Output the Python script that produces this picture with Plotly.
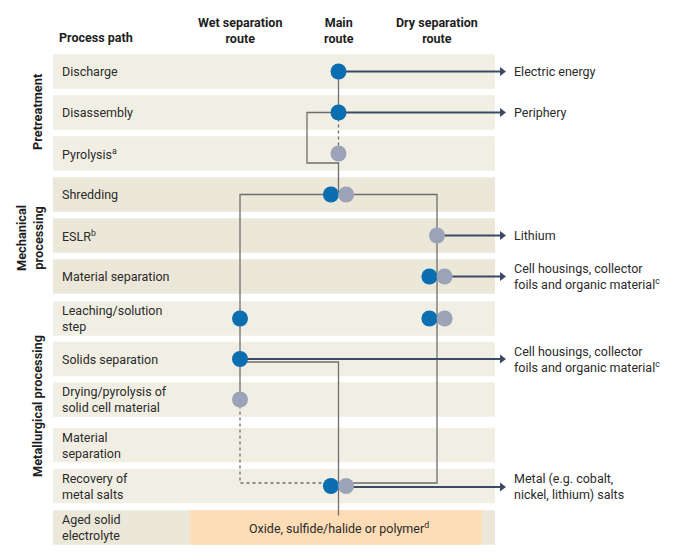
import plotly.graph_objects as go

# ---------------- data ----------------
steps = ["Discharge", "Disassembly", "Pyrolysis<sup>a</sup>", "Shredding", "ESLR<sup>b</sup>",
         "Material separation", "Leaching/solution<br>step", "Solids separation",
         "Drying/pyrolysis of<br>solid cell material", "Material<br>separation",
         "Recovery of<br>metal salts", "Aged solid<br>electrolyte"]
step_group = ["pre", "pre", "pre", "mech", "mech", "mech",
              "met", "met", "met", "met", "met", "aged"]
group_names = ["Pretreatment", "Mechanical<br>processing", "Metallurgical processing"]
group_keys = ["pre", "mech", "met"]

route_keys = ["wet", "main", "dry"]
route_titles = ["Wet separation<br>route", "Main<br>route", "Dry separation<br>route"]

# process-path dots: step index, route, kind (main = blue, alt = grey)
dot_step = [0, 1, 2, 3, 3, 4, 5, 5, 6, 6, 6, 7, 8, 10, 10]
dot_route = ["main", "main", "main", "main", "main", "dry", "dry", "dry",
             "wet", "dry", "dry", "wet", "wet", "main", "main"]
dot_kind = ["main", "main", "alt", "main", "alt", "alt", "main", "alt",
            "main", "main", "alt", "main", "alt", "main", "alt"]

# outputs: step index, route of source dot, label
out_step = [0, 1, 4, 5, 7, 10]
out_route = ["main", "main", "dry", "dry", "wet", "main"]
out_label = ["Electric energy", "Periphery", "Lithium",
             "Cell housings, collector<br>foils and organic material<sup>c</sup>",
             "Cell housings, collector<br>foils and organic material<sup>c</sup>",
             "Metal (e.g. cobalt,<br>nickel, lithium) salts"]

electrolyte_label = "Oxide, sulfide/halide or polymer<sup>d</sup>"

# ---------------- layout (pixel-based positions) ----------------
W, H = 700, 552
X0PX, DXPX = 240.0, 98.5     # pixel of route 0, pixel distance between routes
ROW_PX = [71.5, 112.5, 153.5, 194.5, 235.5, 276.5, 318.5, 359, 399.5, 445, 486, 527.5]
HALF = 17.3


def px(xp):
    return (xp - X0PX) / DXPX


def Y(i, d=0.0):
    return ROW_PX[i] + d


RX = {k: i for i, k in enumerate(route_keys)}
OFF = 7.6 / DXPX

BLUE = "#0a6eb0"
GREY = "#9ba3b8"
LINE = "#6e6e6e"
ARROW = "#3c4a66"
TXT = "#2b2b2b"
FONT = "Roboto"
band_col = {"pre": "#f1efe4", "mech": "#ebe7d9", "met": "#f1efe4", "aged": "#ebe7d9"}

fig = go.Figure()
shapes = []
annotations = []

# bands
for i, g in enumerate(step_group):
    shapes.append(dict(type="rect", xref="x", yref="y", x0=px(53), x1=px(495),
                       y0=Y(i, -HALF), y1=Y(i, HALF), fillcolor=band_col[g],
                       line=dict(width=0), layer="below"))
aged = len(steps) - 1
shapes.append(dict(type="rect", xref="x", yref="y", x0=px(190), x1=px(482),
                   y0=Y(aged, -HALF), y1=Y(aged, HALF), fillcolor="#fddcb6",
                   line=dict(width=0), layer="below"))

# dot positions (pairs on same step/route are split left/right)
pair = {}
for s, r in zip(dot_step, dot_route):
    pair[(s, r)] = pair.get((s, r), 0) + 1


def dot_x(s, r, k):
    x = RX[r]
    if pair[(s, r)] > 1:
        x += -OFF if k == "main" else OFF
    return x


M, Wt, D = RX["main"], RX["wet"], RX["dry"]
by = Y(10, -3)


def path(pts, dash="solid", color=LINE, width=1.3):
    fig.add_trace(go.Scatter(x=[p[0] for p in pts], y=[p[1] for p in pts], mode="lines",
                             line=dict(color=color, width=width, dash=dash),
                             hoverinfo="skip", showlegend=False))


# connectors
path([(M, Y(0)), (M, Y(1))])
path([(M, Y(1)), (M, Y(2))], dash="3px,3px")
path([(M, Y(1)), (px(307), Y(1)), (px(307), Y(2, 9.5)), (M, Y(2, 9.5)), (M, Y(3))])
path([(M - OFF, Y(3)), (Wt, Y(3)), (Wt, Y(8))])
path([(Wt, Y(8)), (Wt, by), (M - OFF, by)], dash="3px,3px")
path([(M + OFF, Y(3)), (D, Y(3)), (D, by), (M + OFF, by)])
path([(Wt, Y(7, 3)), (M, Y(7, 3)), (M, Y(11, -12))])

# output arrows (line + triangular head)
head_x, head_y = [], []
for s, r, lab in zip(out_step, out_route, out_label):
    xs = dot_x(s, r, "alt") if pair.get((s, r), 0) > 1 else RX[r]
    yy = Y(s, 1 if s == 10 else 0)
    path([(xs, yy), (px(500), yy)], color=ARROW, width=2)
    head_x.append(px(502))
    head_y.append(yy)
    annotations.append(dict(x=px(512), y=Y(s), xref="x", yref="y", text=lab,
                            showarrow=False, xanchor="left", yanchor="middle",
                            align="left", font=dict(family=FONT, size=12.5, color=TXT)))
fig.add_trace(go.Scatter(x=head_x, y=head_y, mode="markers",
                         marker=dict(symbol="triangle-right", size=8, color=ARROW,
                                     line=dict(width=0)),
                         hoverinfo="skip", showlegend=False))

# dots
for kind, col in (("main", BLUE), ("alt", GREY)):
    xs, ys = [], []
    for s, r, k in zip(dot_step, dot_route, dot_kind):
        if k == kind:
            xs.append(dot_x(s, r, k))
            ys.append(Y(s))
    fig.add_trace(go.Scatter(x=xs, y=ys, mode="markers",
                             marker=dict(size=16, color=col, line=dict(width=0)),
                             hoverinfo="skip", showlegend=False))

# row labels
for i, s in enumerate(steps):
    annotations.append(dict(x=px(60), y=Y(i), xref="x", yref="y", text=s, showarrow=False,
                            xanchor="left", yanchor="middle", align="left",
                            font=dict(family=FONT, size=12.5, color=TXT)))

# electrolyte text
annotations.append(dict(x=M, y=Y(aged), xref="x", yref="y", text=electrolyte_label,
                        showarrow=False, xanchor="center", yanchor="middle",
                        font=dict(family=FONT, size=12.5, color=TXT)))

# headers
annotations.append(dict(x=px(57), y=37, xref="x", yref="y", text="<b>Process path</b>",
                        showarrow=False, xanchor="left", yanchor="middle",
                        font=dict(family=FONT, size=12.5, color="#1e1e1e")))
for k, t in zip(route_keys, route_titles):
    annotations.append(dict(x=RX[k], y=30, xref="x", yref="y",
                            text="<b>" + t.replace("<br>", "</b><br><b>") + "</b>",
                            showarrow=False, xanchor="center", yanchor="middle", align="center",
                            font=dict(family=FONT, size=12.5, color="#1e1e1e")))

# group labels
group_center_px = {"pre": 112, "mech": 238, "met": 406}
for g, name in zip(group_keys, group_names):
    xg = px(30) if "<br>" in name else px(37)
    annotations.append(dict(x=xg, y=group_center_px[g], xref="x", yref="y",
                            text="<b>" + name.replace("<br>", "</b><br><b>") + "</b>",
                            showarrow=False, textangle=-90, xanchor="center", yanchor="middle",
                            align="center", font=dict(family=FONT, size=12.8, color="#1e1e1e")))

fig.update_layout(
    width=W, height=H, margin=dict(l=0, r=0, t=0, b=0),
    paper_bgcolor="white", plot_bgcolor="white",
    xaxis=dict(range=[px(0), px(W)], visible=False, fixedrange=True),
    yaxis=dict(range=[H, 0], visible=False, fixedrange=True),
    shapes=shapes, annotations=annotations, showlegend=False,
)

fig.write_html("out.html", config={"displayModeBar": False},
               post_script="document.body.style.margin='0';document.body.style.overflow='hidden';")
